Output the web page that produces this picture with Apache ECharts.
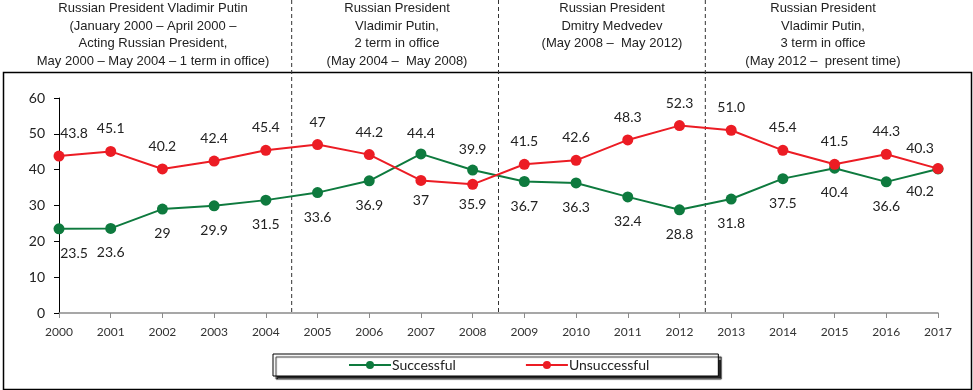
<!DOCTYPE html>
<html><head><meta charset="utf-8">
<script src="https://cdn.jsdelivr.net/npm/echarts@6/dist/echarts.min.js"></script>
<style>html,body{margin:0;padding:0;background:#fff}#c{width:973px;height:390px}</style>
</head><body><div id="c"></div>
<script>
const years = ['2000','2001','2002','2003','2004','2005','2006','2007','2008','2009','2010','2011','2012','2013','2014','2015','2016','2017'];
const successful = [23.5,23.6,29,29.9,31.5,33.6,36.9,44.4,39.9,36.7,36.3,32.4,28.8,31.8,37.5,40.4,36.6,40.2];
const unsuccessful = [43.8,45.1,40.2,42.4,45.4,47,44.2,37,35.9,41.5,42.6,48.3,52.3,51.0,45.4,41.5,44.3,40.3];
const yMin = 0, yMax = 60, yStep = 10;
const periodBoundaries = [4.5, 8.5, 12.5];
const periodTitles = [
  'Russian President Vladimir Putin\n(January 2000 \u2013 April 2000 \u2013\nActing Russian President,\nMay 2000 \u2013 May 2004 \u2013 1 term in office)',
  'Russian President\nVladimir Putin,\n2 term in office\n(May 2004 \u2013  May 2008)',
  'Russian President\nDmitry Medvedev\n(May 2008 \u2013  May 2012)',
  'Russian President\nVladimir Putin,\n3 term in office\n(May 2012 \u2013  present time)'
];
const titleCenters = [153, 397, 612, 823];

const GREEN = '#0e7a3e', RED = '#ec1c24';
const labelFont = {fontFamily:'Lato', fontSize:14, color:'#222'};

function makeData(values, isRed) {
  const n = values.length;
  return values.map((v, i) => {
    let above = isRed;
    const swapped = (i === 7 || i === 8);
    if (swapped) above = !above;
    const lbl = {position: above ? 'top' : 'bottom', distance: above ? 10 : 12};
    if (swapped) lbl.distance = 8;
    if (i === 0) lbl.offset = [15, 0];
    if (i === n - 1) { lbl.offset = [-18, 0]; lbl.distance = above ? 8 : 10; }
    return {value: v, label: lbl};
  });
}

const chart = echarts.init(document.getElementById('c'), null, {renderer:'canvas'});
const option = {
  animation: false,
  backgroundColor: '#fff',
  grid: {left: 59, right: 35, top: 98, bottom: 77},
  xAxis: [{
    type: 'category', data: years, boundaryGap: false,
    axisLine: {lineStyle: {color: '#8a8a8a', width: 1.5}},
    axisTick: {show: true, length: 5, lineStyle: {color: '#8a8a8a'}},
    axisLabel: {fontFamily: 'Lato', fontSize: 12, color: '#333', margin: 13, interval: 0},
    splitLine: {show: false}
  }, {
    type: 'value', min: 0, max: years.length - 1, show: false
  }],
  yAxis: {
    type: 'value', min: yMin, max: yMax, interval: yStep,
    axisLine: {show: true, lineStyle: {color: '#000', width: 1}},
    axisTick: {show: true, length: 5, lineStyle: {color: '#000'}},
    axisLabel: {fontFamily: 'Lato', fontSize: 14, color: '#222', margin: 14},
    splitLine: {show: false}
  },
  legend: {
    left: 273, top: 354,
    padding: [4, 69, 4, 75],
    itemGap: 69, itemWidth: 42, itemHeight: 10,
    borderColor: '#000', borderWidth: 1, backgroundColor: '#fff',
    shadowColor: 'rgba(0,0,0,0.85)', shadowBlur: 1, shadowOffsetX: 3, shadowOffsetY: 3,
    textStyle: {fontFamily: 'Lato', fontSize: 14, color: '#222', padding: [0,0,0,-4]},
    data: ['Successful', 'Unsuccessful']
  },
  graphic: [
    {type: 'rect', left: 1, top: 70, z: -10, shape: {width: 968, height: 317},
     style: {fill: 'none', stroke: '#000', lineWidth: 1.5}}
  ].concat(periodTitles.map((t, i) => ({
    type: 'text', x: titleCenters[i], y: 0, z: 10,
    style: {text: t, fontFamily: 'Liberation Sans', fontSize: 13, lineHeight: 17.5,
            fill: '#222', align: 'center', verticalAlign: 'top'}
  }))),
  series: [
    {
      name: 'Successful', type: 'line', data: makeData(successful, false),
      symbol: 'circle', symbolSize: 11, itemStyle: {color: GREEN},
      lineStyle: {color: GREEN, width: 2},
      label: Object.assign({show: true}, labelFont), z: 3
    },
    {
      name: 'Unsuccessful', type: 'line', data: makeData(unsuccessful, true),
      symbol: 'circle', symbolSize: 11, itemStyle: {color: RED},
      lineStyle: {color: RED, width: 2},
      label: Object.assign({show: true,
        formatter: p => (p.dataIndex === 13 ? Number(p.value).toFixed(1) : String(p.value))}, labelFont),
      z: 4
    },
    {
      type: 'custom', xAxisIndex: 1, yAxisIndex: 0, clip: false, silent: true,
      data: periodBoundaries,
      renderItem: (params, api) => {
        const p = api.coord([api.value(0), yMin]);
        return {type: 'line', shape: {x1: p[0], y1: 0, x2: p[0], y2: p[1]},
                style: {stroke: '#333', lineWidth: 1, lineDash: [4, 3]}};
      },
      z: 1
    }
  ]
};
chart.setOption(option);
</script></body></html>
